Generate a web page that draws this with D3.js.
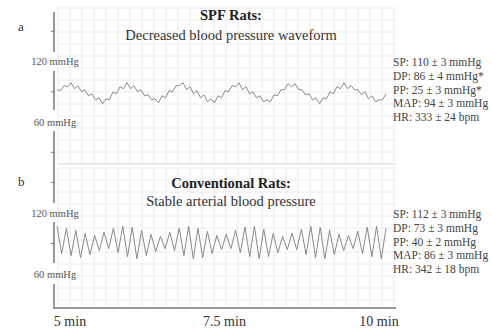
<!DOCTYPE html>
<html><head><meta charset="utf-8">
<script src="https://cdn.jsdelivr.net/npm/d3@7"></script>
<style>html,body{margin:0;padding:0;background:#fff;}svg{display:block;}</style>
</head><body>
<svg id="c" width="492" height="329"></svg>
<script>
// ---- data ----
const panelLetters = ["a", "b"];
const titlesBold = ["SPF Rats:", "Conventional Rats:"];
const subtitles = ["Decreased blood pressure waveform", "Stable arterial blood pressure"];
const yTickLabels = ["120 mmHg", "60 mmHg"];
const yTickValues = [120, 60];
const xTickValues = [5, 7.5, 10];
const xTickLabels = ["5 min", "7.5 min", "10 min"];
const statsA = ["SP: 110 ± 3 mmHg", "DP: 86 ± 4 mmHg*", "PP: 25 ± 3 mmHg*", "MAP: 94 ± 3 mmHg", "HR: 333 ± 24 bpm"];
const statsB = ["SP: 112 ± 3 mmHg", "DP: 73 ± 3 mmHg", "PP: 40 ± 2 mmHg", "MAP: 86 ± 3 mmHg", "HR: 342 ± 18 bpm"];
// pressure traces (mmHg), evenly sampled over 5-10 min
const waveA = [92,91,96,95,99,93,96,90,92,86,88,82,84,78,83,82,90,88,95,93,
  99,93,96,90,92,86,87,82,83,79,86,84,91,90,96,96,99,92,95,88,
  91,84,87,80,83,79,86,84,91,90,96,95,99,92,95,88,90,84,86,80,
  82,80,87,86,92,92,98,95,98,92,92,87,88,82,84,78,84,83,90,88,
  95,93,99,93,96,92,92,87,90,83,86,80,82,82,88];
const waveB = [107,80,105,78,103,76,100,79,98,83,101,85,105,81,107,77,106,75,103,78,
  99,82,97,85,101,83,105,78,107,75,105,76,102,80,98,84,99,85,103,81,
  106,77,107,75,104,77,100,81,97,84,100,84,104,79,107,76,106,75,103,79,
  99,83,98,85,102,80,106,77,107,75,105];

// ---- layout ----
const svg = d3.select("#c");
const serif = "'Liberation Serif','Times New Roman',serif";
const axisX = 54, plotR = 396, axisBottom = 308, titleX = 231;
const panels = [
  {y: d3.scaleLinear().domain([60,120]).range([122,61.5]), wave: waveA, stats: statsA,
   gridTop: 8, gridBot: 164, letterY: 31, titleY: 20, subY: 40, statY0: 66, ticks: [150, 90, 30]},
  {y: d3.scaleLinear().domain([60,120]).range([274,213]), wave: waveB, stats: statsB,
   gridTop: 168, gridBot: 306, letterY: 186, titleY: 188, subY: 206, statY0: 218, ticks: [150, 90]}
];
const xTime = d3.scaleLinear().domain([5,10]).range([70,379]);

// grid
panels.forEach(p => {
  const g = svg.append("g");
  const xs = d3.range(58, plotR + 1, 12);
  const ys = d3.range(p.gridTop, p.gridBot + 1, 12);
  g.selectAll("line.v").data(xs).join("line").attr("x1", d => d).attr("x2", d => d)
    .attr("y1", p.gridTop).attr("y2", p.gridBot).attr("stroke", "#ececec").attr("stroke-width", 1);
  g.selectAll("line.h").data(ys).join("line").attr("x1", 58).attr("x2", plotR)
    .attr("y1", d => d).attr("y2", d => d).attr("stroke", "#ececec").attr("stroke-width", 1);
});
svg.append("line").attr("x1", 58).attr("x2", plotR).attr("y1", 164).attr("y2", 164)
  .attr("stroke", "#dcdcdc");

// waveforms
panels.forEach(p => {
  const xi = d3.scaleLinear().domain([0, p.wave.length - 1]).range([57, 386]);
  const line = d3.line().x((d, i) => xi(i)).y(d => p.y(d));
  svg.append("path").datum(p.wave).attr("d", line).attr("fill", "none")
    .attr("stroke", "#8a8a8a").attr("stroke-width", 1);
});

// broken y axis
const segs = [[12,52],[71,110],[131,203],[222,263],[284,axisBottom]];
svg.selectAll("line.seg").data(segs).join("line").attr("x1", axisX).attr("x2", axisX)
  .attr("y1", d => d[0]).attr("y2", d => d[1]).attr("stroke", "#777").attr("stroke-width", 1.5);
panels.forEach(p => {
  svg.selectAll(null).data(p.ticks).join("line")
    .attr("x1", axisX - 3).attr("x2", axisX + 1).attr("y1", d => p.y(d)).attr("y2", d => p.y(d))
    .attr("stroke", "#777").attr("stroke-width", 1);
  svg.selectAll(null).data(yTickValues).join("text")
    .attr("x", axisX + 1).attr("y", d => p.y(d) + 3.5).attr("text-anchor", "middle")
    .attr("font-family", serif).attr("font-size", 10.5).attr("fill", "#555")
    .text((d, i) => yTickLabels[i]);
});
// x axis
svg.append("line").attr("x1", axisX - 0.75).attr("x2", plotR).attr("y1", axisBottom).attr("y2", axisBottom)
  .attr("stroke", "#777").attr("stroke-width", 1.5);
svg.selectAll("text.xt").data(xTickValues).join("text")
  .attr("x", d => xTime(d)).attr("y", 326).attr("text-anchor", "middle")
  .attr("font-family", serif).attr("font-size", 14).attr("fill", "#333")
  .text((d, i) => xTickLabels[i]);

// titles, letters, stats
panels.forEach((p, k) => {
  svg.append("text").attr("x", 18).attr("y", p.letterY).attr("font-family", serif)
    .attr("font-size", 13).attr("fill", "#333").text(panelLetters[k]);
  svg.append("text").attr("x", titleX).attr("y", p.titleY).attr("text-anchor", "middle")
    .attr("font-family", serif).attr("font-weight", "bold").attr("font-size", 14.5)
    .attr("fill", "#222").text(titlesBold[k]);
  svg.append("text").attr("x", titleX).attr("y", p.subY).attr("text-anchor", "middle")
    .attr("font-family", serif).attr("font-size", 14.5).attr("fill", "#333").text(subtitles[k]);
  svg.selectAll(null).data(p.stats).join("text")
    .attr("x", 393).attr("y", (d, i) => p.statY0 + i * 13.8)
    .attr("font-family", serif).attr("font-size", 11.5).attr("fill", "#444").text(d => d);
});
</script>
</body></html>
